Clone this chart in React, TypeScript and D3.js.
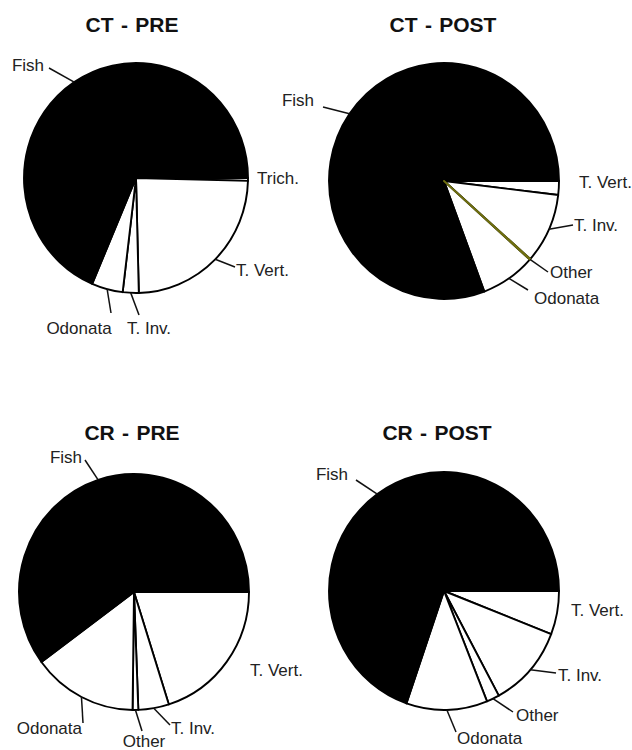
import React from "react";
import * as d3 from "d3";

// ---------- data (percent of diet) ----------
const ctPreCategories = ["Trich.", "T. Vert.", "T. Inv.", "Odonata", "Fish"];
const ctPreValues = [0.4, 24.2, 2.3, 4.5, 68.6];

const ctPostCategories = ["T. Vert.", "T. Inv.", "Other", "Odonata", "Fish"];
const ctPostValues = [1.9, 9.6, 0.1, 7.7, 80.7];

const crPreCategories = ["T. Vert.", "T. Inv.", "Other", "Odonata", "Fish"];
const crPreValues = [20.1, 4.3, 0.8, 14.7, 60.1];

const crPostCategories = ["T. Vert.", "T. Inv.", "Other", "Odonata", "Fish"];
const crPostValues = [5.9, 11.2, 1.8, 11.4, 69.7];

const titles = ["CT - PRE", "CT - POST", "CR - PRE", "CR - POST"];

// ---------- layout / styles ----------
type Lab = { end?: [number, number]; text: [number, number]; anchor: string };

const panels = [
  {
    title: titles[0], cats: ctPreCategories, vals: ctPreValues,
    cx: 136, cy: 178, rx: 112, ry: 115, titleX: 132, titleY: 32,
    labels: {
      "Fish": { end: [-87, -110], text: [-92, -113], anchor: "end" },
      "Trich.": { text: [121, 0], anchor: "start" },
      "T. Vert.": { end: [99, 89], text: [100, 92], anchor: "start" },
      "Odonata": { end: [-25, 135], text: [-57, 150], anchor: "middle" },
      "T. Inv.": { end: [3, 137], text: [-9, 150], anchor: "start" },
    } as Record<string, Lab>,
  },
  {
    title: titles[1], cats: ctPostCategories, vals: ctPostValues,
    cx: 444, cy: 181, rx: 115, ry: 118, titleX: 443, titleY: 32,
    labels: {
      "Fish": { end: [-121, -74], text: [-130, -81], anchor: "end" },
      "T. Vert.": { text: [135, 1], anchor: "start" },
      "T. Inv.": { end: [129, 44], text: [130, 44], anchor: "start" },
      "Other": { end: [104, 91], text: [106, 91], anchor: "start" },
      "Odonata": { end: [84, 109], text: [90, 117], anchor: "start" },
    } as Record<string, Lab>,
  },
  {
    title: titles[2], cats: crPreCategories, vals: crPreValues,
    cx: 134, cy: 592, rx: 115, ry: 118, titleX: 132, titleY: 440,
    labels: {
      "Fish": { end: [-49, -132], text: [-52, -135], anchor: "end" },
      "T. Vert.": { text: [116, 78], anchor: "start" },
      "Odonata": { end: [-51, 131], text: [-52, 136], anchor: "end" },
      "Other": { end: [8, 139], text: [10, 149], anchor: "middle" },
      "T. Inv.": { end: [36, 133], text: [37, 136], anchor: "start" },
    } as Record<string, Lab>,
  },
  {
    title: titles[3], cats: crPostCategories, vals: crPostValues,
    cx: 444, cy: 591, rx: 115, ry: 119, titleX: 437, titleY: 440,
    labels: {
      "Fish": { end: [-88, -111], text: [-96, -117], anchor: "end" },
      "T. Vert.": { text: [127, 19], anchor: "start" },
      "T. Inv.": { end: [112, 82], text: [114, 84], anchor: "start" },
      "Other": { end: [69, 121], text: [72, 124], anchor: "start" },
      "Odonata": { end: [12, 141], text: [13, 147], anchor: "start" },
    } as Record<string, Lab>,
  },
];

const fillColor = (cat: string) => (cat === "Fish" ? "#000000" : "#ffffff");
const highlightStroke = "#6f6f10"; // the CT-POST "Other" sliver
const FONT = "'Liberation Sans', Arial, Helvetica, sans-serif";

function Pie({ p, idx }: { p: (typeof panels)[number]; idx: number }) {
  const pie = d3
    .pie<number>()
    .sort(null)
    .value((d) => d)
    .startAngle(Math.PI / 2)
    .endAngle(Math.PI / 2 + 2 * Math.PI);
  const arcs = pie(p.vals);
  const arc = d3.arc<d3.PieArcDatum<number>>().innerRadius(0).outerRadius(p.rx);
  const sy = p.ry / p.rx;
  const highlighted = (i: number) => idx === 1 && p.cats[i] === "Other";
  const order = arcs.map((_, i) => i).sort((a, b) => (highlighted(a) ? 1 : 0) - (highlighted(b) ? 1 : 0));

  return (
    <g>
      <text
        x={p.titleX}
        y={p.titleY}
        textAnchor="middle"
        fontFamily={FONT}
        fontWeight="bold"
        fontSize={21}
        wordSpacing={1.5}
        fill="#111"
      >
        {p.title}
      </text>
      <g transform={`translate(${p.cx},${p.cy}) scale(1,${sy})`}>
        {order.map((i) => (
          <path
            key={i}
            d={arc(arcs[i]) || ""}
            fill={highlighted(i) ? "#d8d800" : fillColor(p.cats[i])}
            stroke={highlighted(i) ? highlightStroke : "#000"}
            strokeWidth={1.9}
            strokeLinejoin="round"
            vectorEffect="non-scaling-stroke"
          />
        ))}
      </g>
      {arcs.map((a, i) => {
        const cat = p.cats[i];
        const lab = p.labels[cat];
        if (!lab) return null;
        const mid = (a.startAngle + a.endAngle) / 2;
        const sx0 = p.cx + p.rx * Math.sin(mid);
        const sy0 = p.cy - p.ry * Math.cos(mid);
        return (
          <g key={"l" + i}>
            {lab.end && (
              <line
                x1={sx0}
                y1={sy0}
                x2={p.cx + lab.end[0]}
                y2={p.cy + lab.end[1]}
                stroke="#111"
                strokeWidth={1.5}
              />
            )}
            <text
              x={p.cx + lab.text[0]}
              y={p.cy + lab.text[1]}
              textAnchor={lab.anchor as any}
              dominantBaseline="central"
              fontFamily={FONT}
              fontSize={17}
              fill="#222"
            >
              {cat}
            </text>
          </g>
        );
      })}
    </g>
  );
}

export default function App() {
  return (
    <svg
      width={632}
      height={750}
      viewBox="0 0 632 750"
      style={{ position: "absolute", left: 0, top: 0, background: "#fff" }}
    >
      <rect x={0} y={0} width={632} height={750} fill="#fff" />
      {panels.map((p, i) => (
        <Pie key={i} p={p} idx={i} />
      ))}
    </svg>
  );
}
